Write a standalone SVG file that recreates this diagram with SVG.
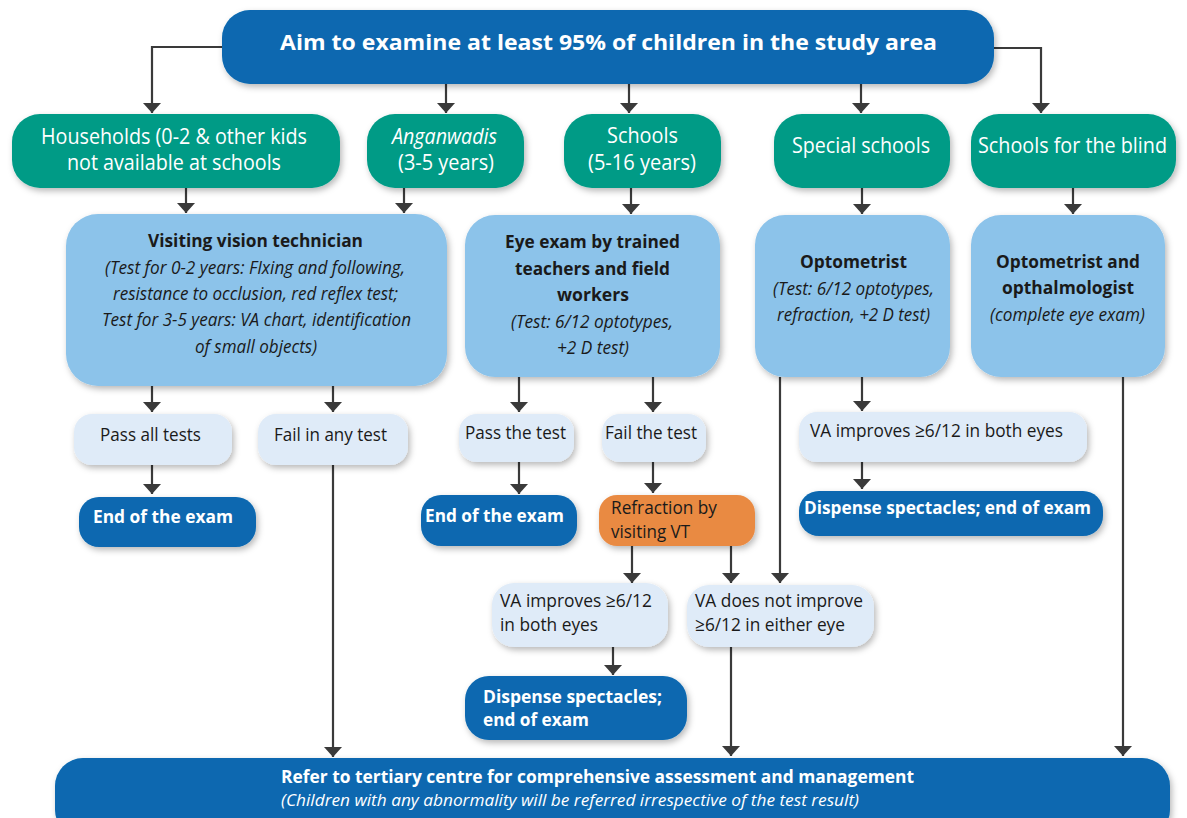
<svg xmlns="http://www.w3.org/2000/svg" width="1187" height="818" viewBox="0 0 1187 818">
  <style>
    text { font-family: "Open Sans", "Noto Sans", sans-serif; }
    .dark { fill: #0867b0; }
    .green { fill: #009b86; }
    .light { fill: #8cc3ea; }
    .pale { fill: #dfebf8; }
    .orange { fill: #e98a43; }
    .box { filter: url(#shadow); }
    .wt { fill: #ffffff; }
    .bk { fill: #1a1a1a; }
    .b { font-weight: 700; }
    .i { font-style: italic; }
    .conn path { fill: none; stroke: #3a3a3a; stroke-width: 2.2; marker-end: url(#arrow); }
  </style>
  <defs>
    <filter id="shadow" x="-10%" y="-20%" width="125%" height="150%">
      <feDropShadow dx="2" dy="3" stdDeviation="3" flood-color="#000" flood-opacity="0.28"/>
    </filter>
    <marker id="arrow" markerUnits="userSpaceOnUse" markerWidth="12" markerHeight="20" refX="10" refY="9.5" orient="auto">
      <path d="M0,0.5 L10,9.5 L0,18.5 z" fill="#3a3a3a"/>
    </marker>
  </defs>

  <rect width="1187" height="818" fill="#ffffff"/>

  <!-- connectors -->
  <g id="connectors" class="conn">
    <path d="M222,47 H152 V113"/>
    <path d="M446,84 V113"/>
    <path d="M629,84 V113"/>
    <path d="M861,84 V113"/>
    <path d="M994,48 H1041 V113"/>
    <path d="M186,188 V213"/>
    <path d="M404,188 V213"/>
    <path d="M631,188 V214"/>
    <path d="M862,188 V214"/>
    <path d="M1073,188 V214"/>
    <path d="M152,386 V412"/>
    <path d="M333,386 V412"/>
    <path d="M152,465 V494"/>
    <path d="M333,465 V757"/>
    <path d="M519,377 V412"/>
    <path d="M653,377 V412"/>
    <path d="M519,462 V494"/>
    <path d="M653,462 V493"/>
    <path d="M632,546 V583"/>
    <path d="M731,546 V583"/>
    <path d="M780,377 V583"/>
    <path d="M862,377 V411"/>
    <path d="M862,462 V489"/>
    <path d="M613,647 V675"/>
    <path d="M731,647 V756"/>
    <path d="M1123,377 V756"/>
  </g>

  <!-- top goal -->
  <g id="goal">
    <rect class="box dark" x="222" y="10" width="772" height="74" rx="28"/>
    <text class="wt b" x="280" y="50" font-size="21.5" textLength="657" lengthAdjust="spacingAndGlyphs">Aim to examine at least 95% of children in the study area</text>
  </g>

  <!-- settings -->
  <g id="households">
    <rect class="box green" x="12" y="114" width="328" height="74" rx="28"/>
    <text class="wt" x="41" y="144" font-size="21" textLength="266" lengthAdjust="spacingAndGlyphs">Households (0-2 &amp; other kids</text>
    <text class="wt" x="67" y="170" font-size="21" textLength="214" lengthAdjust="spacingAndGlyphs">not available at schools</text>
  </g>
  <g id="anganwadis">
    <rect class="box green" x="367" y="114" width="157" height="74" rx="28"/>
    <text class="wt i" x="392" y="144" font-size="21" textLength="105" lengthAdjust="spacingAndGlyphs">Anganwadis</text>
    <text class="wt" x="398" y="170" font-size="21" textLength="96" lengthAdjust="spacingAndGlyphs">(3-5 years)</text>
  </g>
  <g id="schools">
    <rect class="box green" x="564" y="114" width="157" height="74" rx="28"/>
    <text class="wt" x="607" y="143" font-size="21" textLength="71" lengthAdjust="spacingAndGlyphs">Schools</text>
    <text class="wt" x="588" y="170" font-size="21" textLength="108" lengthAdjust="spacingAndGlyphs">(5-16 years)</text>
  </g>
  <g id="special-schools">
    <rect class="box green" x="774" y="114" width="176" height="74" rx="28"/>
    <text class="wt" x="792" y="153" font-size="21" textLength="138" lengthAdjust="spacingAndGlyphs">Special schools</text>
  </g>
  <g id="blind-schools">
    <rect class="box green" x="971" y="114" width="205" height="74" rx="28"/>
    <text class="wt" x="978" y="153" font-size="21" textLength="189" lengthAdjust="spacingAndGlyphs">Schools for the blind</text>
  </g>

  <!-- examiners -->
  <g id="vision-technician">
    <rect class="box light" x="66" y="214" width="381" height="172" rx="32"/>
    <text class="bk b" x="148" y="247" font-size="18.5" textLength="215" lengthAdjust="spacingAndGlyphs">Visiting vision technician</text>
    <text class="bk i" x="105" y="274" font-size="17.5" textLength="300" lengthAdjust="spacingAndGlyphs">(Test for 0-2 years: FIxing and following,</text>
    <text class="bk i" x="113" y="300" font-size="17.5" textLength="285" lengthAdjust="spacingAndGlyphs">resistance to occlusion, red reflex test;</text>
    <text class="bk i" x="102" y="326" font-size="17.5" textLength="309" lengthAdjust="spacingAndGlyphs">Test for 3-5 years: VA chart, identification</text>
    <text class="bk i" x="195" y="353" font-size="17.5" textLength="122" lengthAdjust="spacingAndGlyphs">of small objects)</text>
  </g>
  <g id="teachers-exam">
    <rect class="box light" x="465" y="215" width="255" height="162" rx="30"/>
    <text class="bk b" x="505" y="248" font-size="18.5" textLength="175" lengthAdjust="spacingAndGlyphs">Eye exam by trained</text>
    <text class="bk b" x="515" y="275" font-size="18.5" textLength="155" lengthAdjust="spacingAndGlyphs">teachers and field</text>
    <text class="bk b" x="557" y="301" font-size="18.5" textLength="72" lengthAdjust="spacingAndGlyphs">workers</text>
    <text class="bk i" x="511" y="328" font-size="17.5" textLength="162" lengthAdjust="spacingAndGlyphs">(Test: 6/12 optotypes,</text>
    <text class="bk i" x="557" y="354" font-size="17.5" textLength="72" lengthAdjust="spacingAndGlyphs">+2 D test)</text>
  </g>
  <g id="optometrist">
    <rect class="box light" x="755" y="215" width="195" height="162" rx="30"/>
    <text class="bk b" x="800" y="268" font-size="18.5" textLength="107" lengthAdjust="spacingAndGlyphs">Optometrist</text>
    <text class="bk i" x="773" y="295" font-size="17.5" textLength="161" lengthAdjust="spacingAndGlyphs">(Test: 6/12 optotypes,</text>
    <text class="bk i" x="777" y="321" font-size="17.5" textLength="153" lengthAdjust="spacingAndGlyphs">refraction, +2 D test)</text>
  </g>
  <g id="optometrist-ophthalmologist">
    <rect class="box light" x="971" y="215" width="194" height="162" rx="30"/>
    <text class="bk b" x="996" y="268" font-size="18.5" textLength="144" lengthAdjust="spacingAndGlyphs">Optometrist and</text>
    <text class="bk b" x="1002" y="294" font-size="18.5" textLength="132" lengthAdjust="spacingAndGlyphs">opthalmologist</text>
    <text class="bk i" x="990" y="321" font-size="17.5" textLength="155" lengthAdjust="spacingAndGlyphs">(complete eye exam)</text>
  </g>

  <!-- results -->
  <g id="pass-all">
    <rect class="box pale" x="74" y="414" width="158" height="51" rx="18"/>
    <text class="bk" x="100" y="441" font-size="19" textLength="101" lengthAdjust="spacingAndGlyphs">Pass all tests</text>
  </g>
  <g id="fail-any">
    <rect class="box pale" x="258" y="414" width="150" height="51" rx="18"/>
    <text class="bk" x="274" y="441" font-size="19" textLength="113" lengthAdjust="spacingAndGlyphs">Fail in any test</text>
  </g>
  <g id="end-exam-1">
    <rect class="box dark" x="79" y="497" width="177" height="50" rx="20"/>
    <text class="wt b" x="93" y="523" font-size="18.5" textLength="140" lengthAdjust="spacingAndGlyphs">End of the exam</text>
  </g>
  <g id="pass-test">
    <rect class="box pale" x="459" y="414" width="115" height="48" rx="18"/>
    <text class="bk" x="465" y="439" font-size="19" textLength="101" lengthAdjust="spacingAndGlyphs">Pass the test</text>
  </g>
  <g id="end-exam-2">
    <rect class="box dark" x="421" y="495" width="156" height="51" rx="20"/>
    <text class="wt b" x="425" y="522" font-size="18.5" textLength="139" lengthAdjust="spacingAndGlyphs">End of the exam</text>
  </g>
  <g id="fail-test">
    <rect class="box pale" x="602" y="414" width="104" height="48" rx="18"/>
    <text class="bk" x="605" y="439" font-size="19" textLength="92" lengthAdjust="spacingAndGlyphs">Fail the test</text>
  </g>
  <g id="refraction">
    <rect class="box orange" x="599" y="495" width="156" height="51" rx="18"/>
    <text class="bk" x="611" y="514" font-size="17.5" textLength="106" lengthAdjust="spacingAndGlyphs">Refraction by</text>
    <text class="bk" x="611" y="538" font-size="17.5" textLength="79" lengthAdjust="spacingAndGlyphs">visiting VT</text>
  </g>
  <g id="va-improves-right">
    <rect class="box pale" x="799" y="412" width="288" height="50" rx="18"/>
    <text class="bk" x="810" y="437" font-size="19" textLength="253" lengthAdjust="spacingAndGlyphs">VA improves ≥6/12 in both eyes</text>
  </g>
  <g id="dispense-right">
    <rect class="box dark" x="799" y="491" width="304" height="45" rx="20"/>
    <text class="wt b" x="804" y="514" font-size="18.5" textLength="287" lengthAdjust="spacingAndGlyphs">Dispense spectacles; end of exam</text>
  </g>
  <g id="va-improves-left">
    <rect class="box pale" x="492" y="583" width="176" height="64" rx="22"/>
    <text class="bk" x="500" y="607" font-size="18.5" textLength="152" lengthAdjust="spacingAndGlyphs">VA improves ≥6/12</text>
    <text class="bk" x="500" y="631" font-size="18.5" textLength="98" lengthAdjust="spacingAndGlyphs">in both eyes</text>
  </g>
  <g id="va-not-improve">
    <rect class="box pale" x="687" y="585" width="187" height="62" rx="22"/>
    <text class="bk" x="695" y="607" font-size="18.5" textLength="168" lengthAdjust="spacingAndGlyphs">VA does not improve</text>
    <text class="bk" x="695" y="631" font-size="18.5" textLength="150" lengthAdjust="spacingAndGlyphs">≥6/12 in either eye</text>
  </g>
  <g id="dispense-left">
    <rect class="box dark" x="465" y="676" width="222" height="64" rx="24"/>
    <text class="wt b" x="483" y="703" font-size="18" textLength="179" lengthAdjust="spacingAndGlyphs">Dispense spectacles;</text>
    <text class="wt b" x="483" y="726" font-size="18" textLength="106" lengthAdjust="spacingAndGlyphs">end of exam</text>
  </g>

  <!-- referral -->
  <g id="referral">
    <rect class="box dark" x="55" y="758" width="1115" height="80" rx="28"/>
    <text class="wt b" x="281" y="783" font-size="17.5" textLength="633" lengthAdjust="spacingAndGlyphs">Refer to tertiary centre for comprehensive assessment and management</text>
    <text class="wt i" x="281" y="806" font-size="16.5" textLength="578" lengthAdjust="spacingAndGlyphs">(Children with any abnormality will be referred irrespective of the test result)</text>
  </g>
</svg>
